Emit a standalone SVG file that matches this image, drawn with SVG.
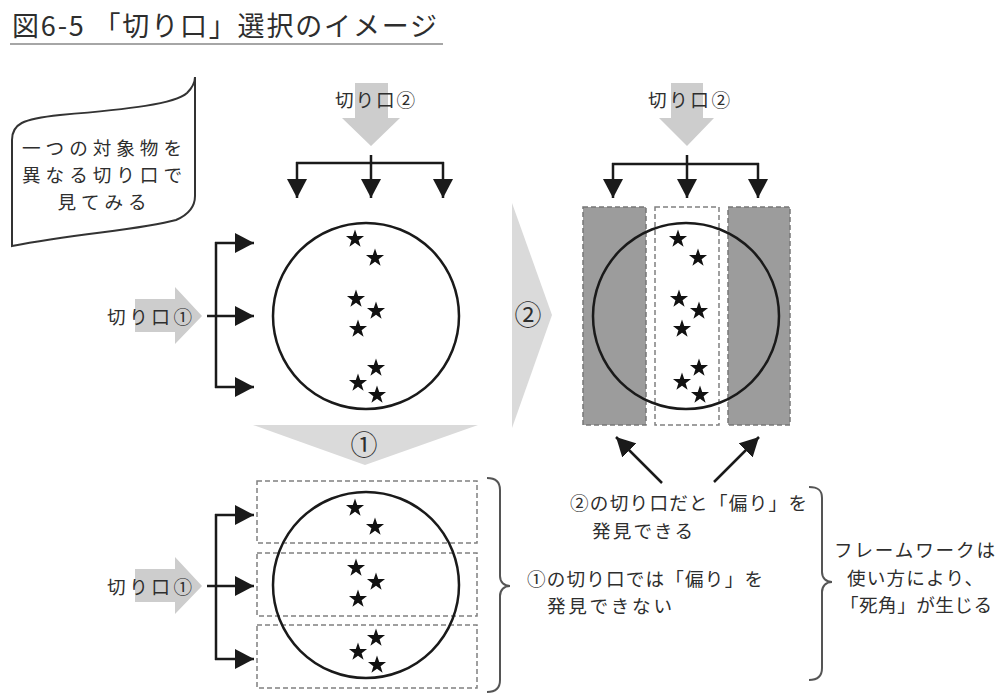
<svg xmlns="http://www.w3.org/2000/svg" width="1006" height="696" viewBox="0 0 1006 696">
<style>
text{font-family:"Noto Sans CJK JP","Noto Sans",sans-serif;fill:#2e2e2e;}
.t21{font-size:18.6px;}
.circ{fill:none;stroke:#1a1a1a;stroke-width:2.5;}
.ln{fill:none;stroke:#1a1a1a;stroke-width:2.5;}
.blk{fill:#cdcdcd;}
.chev{fill:#dadada;}
.dash{fill:none;stroke:#808080;stroke-width:1.5;stroke-dasharray:5 3;}
.brace{fill:none;stroke:#555;stroke-width:2;}
</style>
<defs>
<marker id="ah" markerUnits="userSpaceOnUse" markerWidth="20" markerHeight="20" refX="19" refY="10" orient="auto" viewBox="0 0 20 20">
<path d="M0,0 L19,10 L0,20 Z" fill="#1a1a1a"/>
</marker>
<path id="star" d="M0,-9.5 L2.23,-3.07 L9.04,-2.94 L3.61,1.17 L5.58,7.69 L0,3.8 L-5.58,7.69 L-3.61,1.17 L-9.04,-2.94 L-2.23,-3.07 Z" fill="#111"/>
</defs>
<rect width="1006" height="696" fill="#fff"/>

<g id="title">
<text x="12" y="36" font-size="27" textLength="425" lengthAdjust="spacing">図6-5 「切り口」選択のイメージ</text>
<line x1="10" y1="44" x2="443" y2="44" stroke="#888" stroke-width="1.5"/>
</g>

<g id="flag">
<path d="M12,246 L12,140 C12,124 22,119 60,115 C130,109 175,104 187,93 C193,87 195,81 195,77 L195,196 C195,206 190,214 176,220 C140,230 80,233 12,246 Z" fill="#fff" stroke="#333" stroke-width="2"/>
<text class="t21" x="102" y="155" text-anchor="middle" textLength="160" lengthAdjust="spacing">一つの対象物を</text>
<text class="t21" x="102" y="182" text-anchor="middle" textLength="160" lengthAdjust="spacing">異なる切り口で</text>
<text class="t21" x="102" y="209" text-anchor="middle" textLength="89" lengthAdjust="spacing">見てみる</text>
</g>

<!-- gray block arrows -->
<g id="cut2-left">
<path class="blk" d="M355,83 L388,83 L388,118 L400,118 L371,146 L342,118 L355,118 Z"/>
<text class="t21" x="335" y="107" textLength="80" lengthAdjust="spacing">切り口②</text>
</g>
<g id="cut2-right">
<path class="blk" d="M671,83 L703,83 L703,118 L714,118 L687,146 L659,118 L671,118 Z"/>
<text class="t21" x="648" y="107" textLength="82" lengthAdjust="spacing">切り口②</text>
</g>
<g id="cut1-top">
<path class="blk" d="M135,299 L175,299 L175,287 L202,316 L175,344 L175,332 L135,332 Z"/>
<text class="t21" x="107" y="324" textLength="85" lengthAdjust="spacing">切り口①</text>
</g>
<g id="cut1-bottom">
<path class="blk" d="M135,569 L175,569 L175,557 L202,586 L175,614 L175,602 L135,602 Z"/>
<text class="t21" x="107" y="594" textLength="85" lengthAdjust="spacing">切り口①</text>
</g>

<g id="step2-chevron">
<path class="chev" d="M512,203 L552,315 L512,428 Z"/>
<text x="528" y="325" font-size="27" text-anchor="middle">②</text>
</g>
<g id="step1-chevron">
<path class="chev" d="M253,425 L478,425 L365,465 Z"/>
<text x="364" y="455" font-size="27" text-anchor="middle">①</text>
</g>

<!-- object 1 (top-left) -->
<g id="object-top">
<circle class="circ" cx="366" cy="316" r="93"/>
<use href="#star" x="355" y="239"/>
<use href="#star" x="375" y="258"/>
<use href="#star" x="356" y="299"/>
<use href="#star" x="376" y="311"/>
<use href="#star" x="358" y="329"/>
<use href="#star" x="376" y="368"/>
<use href="#star" x="358" y="383"/>
<use href="#star" x="377" y="395"/>
</g>

<!-- object 2 (right, vertical slices) -->
<g id="object-right">
<rect x="583" y="207" width="63" height="218" fill="#9c9c9c" stroke="#777" stroke-width="1.5" stroke-dasharray="5 3"/>
<rect class="dash" x="655" y="207" width="64" height="218" fill="#fff"/>
<rect x="728" y="207" width="62" height="218" fill="#9c9c9c" stroke="#777" stroke-width="1.5" stroke-dasharray="5 3"/>
<circle class="circ" cx="686" cy="316" r="93"/>
<use href="#star" x="678" y="239"/>
<use href="#star" x="698" y="258"/>
<use href="#star" x="679" y="299"/>
<use href="#star" x="699" y="311"/>
<use href="#star" x="682" y="329"/>
<use href="#star" x="699" y="368"/>
<use href="#star" x="682" y="382"/>
<use href="#star" x="700" y="395"/>
</g>

<!-- object 3 (bottom-left, horizontal slices) -->
<g id="object-bottom">
<rect class="dash" x="257" y="481" width="220" height="62"/>
<rect class="dash" x="257" y="553" width="220" height="63"/>
<rect class="dash" x="257" y="625" width="220" height="63"/>
<circle class="circ" cx="366" cy="585" r="93"/>
<use href="#star" x="355" y="508"/>
<use href="#star" x="375" y="527"/>
<use href="#star" x="356" y="568"/>
<use href="#star" x="376" y="582"/>
<use href="#star" x="358" y="599"/>
<use href="#star" x="376" y="638"/>
<use href="#star" x="358" y="652"/>
<use href="#star" x="377" y="665"/>
</g>

<g id="connectors">
<!-- top-left tree -->
<path class="ln" d="M371,155 L371,163 M296,163 L444,163"/>
<line class="ln" x1="297" y1="162" x2="297" y2="198" marker-end="url(#ah)"/>
<line class="ln" x1="371" y1="162" x2="371" y2="198" marker-end="url(#ah)"/>
<line class="ln" x1="443" y1="162" x2="443" y2="198" marker-end="url(#ah)"/>
<!-- top-right tree -->
<path class="ln" d="M687,155 L687,164 M612,164 L759,164"/>
<line class="ln" x1="613" y1="163" x2="613" y2="198" marker-end="url(#ah)"/>
<line class="ln" x1="687" y1="163" x2="687" y2="198" marker-end="url(#ah)"/>
<line class="ln" x1="758" y1="163" x2="758" y2="198" marker-end="url(#ah)"/>
<!-- left tree top -->
<path class="ln" d="M216,242 L216,388 M207,316 L216,316"/>
<line class="ln" x1="215" y1="243" x2="254" y2="243" marker-end="url(#ah)"/>
<line class="ln" x1="215" y1="316" x2="254" y2="316" marker-end="url(#ah)"/>
<line class="ln" x1="215" y1="387" x2="254" y2="387" marker-end="url(#ah)"/>
<!-- left tree bottom -->
<path class="ln" d="M216,514 L216,660 M207,586 L216,586"/>
<line class="ln" x1="215" y1="515" x2="254" y2="515" marker-end="url(#ah)"/>
<line class="ln" x1="215" y1="586" x2="254" y2="586" marker-end="url(#ah)"/>
<line class="ln" x1="215" y1="659" x2="254" y2="659" marker-end="url(#ah)"/>
<!-- diagonal arrows -->
<line class="ln" x1="662" y1="483" x2="616" y2="437" marker-end="url(#ah)"/>
<line class="ln" x1="714" y1="482" x2="759" y2="437" marker-end="url(#ah)"/>
</g>

<g id="note-found">
<text class="t21" x="570" y="510" textLength="237" lengthAdjust="spacing">②の切り口だと「偏り」を</text>
<text class="t21" x="592" y="538" textLength="101" lengthAdjust="spacing">発見できる</text>
</g>

<g id="note-notfound">
<path class="brace" d="M487,478 C496,478 500,482 500,490 L500,576 C500,582 504,586 510,586 C504,586 500,590 500,596 L500,680 C500,688 496,692 487,692"/>
<text class="t21" x="527" y="586" textLength="236" lengthAdjust="spacing">①の切り口では「偏り」を</text>
<text class="t21" x="547" y="613" textLength="125" lengthAdjust="spacing">発見できない</text>
</g>

<g id="note-framework">
<path class="brace" d="M809,487 C818,487 822,490 822,498 L822,572 C822,578 826,582 832,582 C826,582 822,586 822,592 L822,668 C822,676 818,680 809,680"/>
<text class="t21" x="834" y="557" textLength="161" lengthAdjust="spacing">フレームワークは</text>
<text class="t21" x="847" y="585" textLength="136" lengthAdjust="spacing">使い方により、</text>
<text class="t21" x="840" y="612" textLength="152" lengthAdjust="spacing">「死角」が生じる</text>
</g>
</svg>
